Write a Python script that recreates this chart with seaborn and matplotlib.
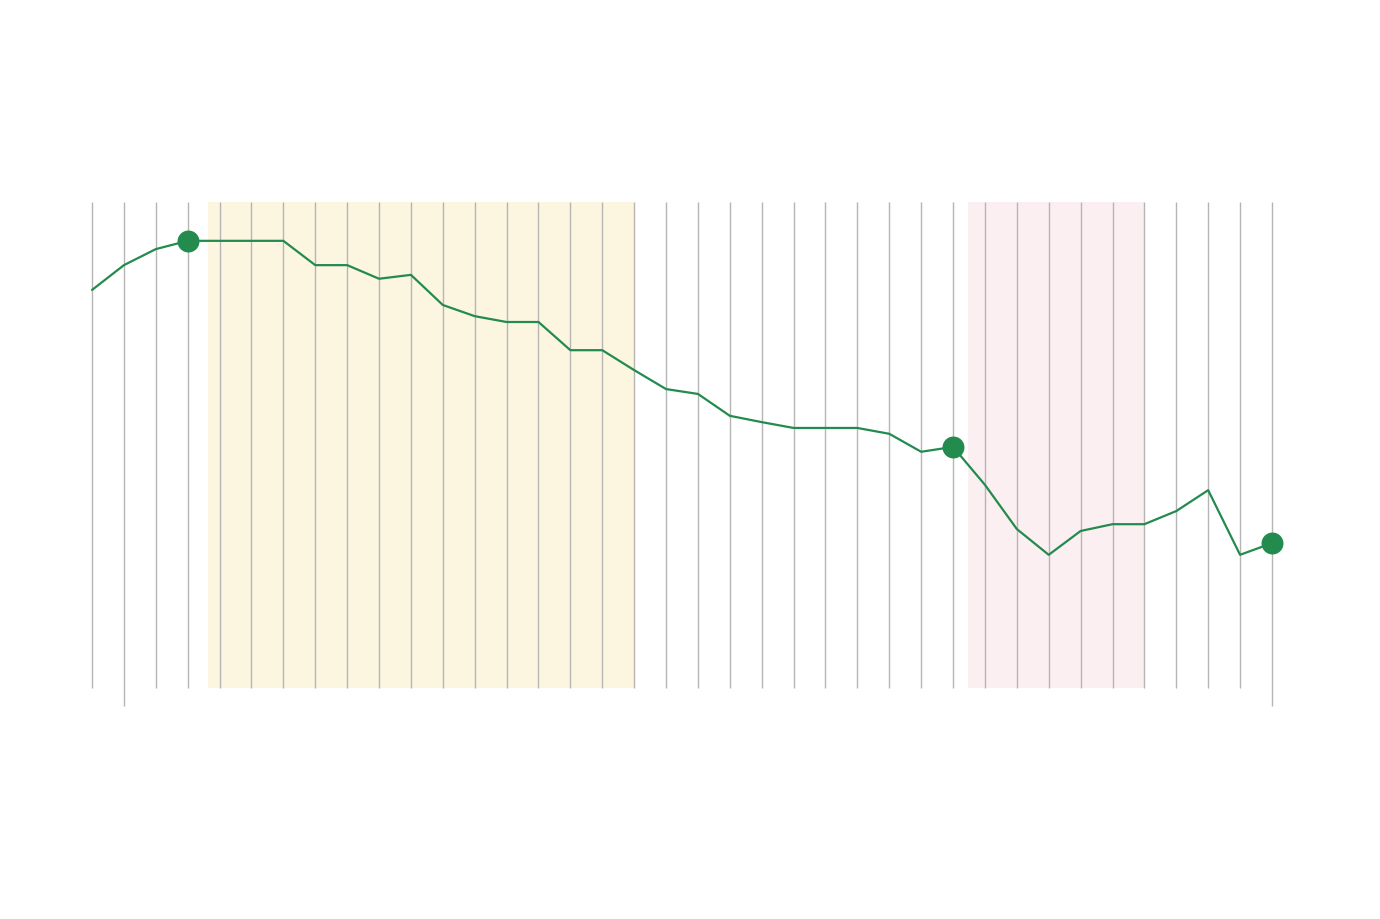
import numpy as np
import pandas as pd
import matplotlib
matplotlib.use('Agg')
import matplotlib.pyplot as plt
import seaborn as sns

# values (0-100 scale, no labels shown)
steps = list(range(38))
values = [81.9, 87.0, 90.3, 92.0, 92.0, 92.0, 92.0, 87.0, 87.0, 84.2,
          85.0, 78.8, 76.5, 75.3, 75.3, 69.5, 69.5, 65.4, 61.5, 60.5,
          56.0, 54.7, 53.5, 53.5, 53.5, 52.3, 48.6, 49.6, 41.8, 32.7,
          27.4, 32.3, 33.7, 33.7, 36.4, 40.7, 27.4, 29.8]
highlight_steps = [3, 27, 37]
yellow_span = (3.64, 17)
pink_span = (27.46, 33)
long_ticks = [1, 37]

df = pd.DataFrame({'step': steps, 'value': values})
dots = df[df['step'].isin(highlight_steps)]

sns.set_theme(style='white')
fig = plt.figure(figsize=(13.8, 9.2), dpi=100)
ax = fig.add_axes([0.0667, 0.2511, 0.855, 0.5283])
ax.set_xlim(0, 37)
ax.set_ylim(0, 100)

ax.axvspan(*yellow_span, color='#fcf5df', lw=0, zorder=0)
ax.axvspan(*pink_span, color='#fbeff2', lw=0, zorder=0)

# vertical grid, two of them run a little below the plot area
short = [s for s in steps if s not in long_ticks]
ax.vlines(short, 0, 100, color='#b5b5b5', linewidth=1, zorder=1, clip_on=False)
ax.vlines(long_ticks, -3.7, 100, color='#b5b5b5', linewidth=1, zorder=1, clip_on=False)

sns.lineplot(data=df, x='step', y='value', color='#238b4e', linewidth=1.6, ax=ax,
             zorder=3, clip_on=False)
sns.scatterplot(data=dots, x='step', y='value', color='#238b4e', s=250,
                linewidth=0, ax=ax, zorder=4, clip_on=False)

ax.set_xticks([])
ax.set_yticks([])
ax.set_xlabel('')
ax.set_ylabel('')
for s in ax.spines.values():
    s.set_visible(False)

fig.savefig('out.png', dpi=100)
